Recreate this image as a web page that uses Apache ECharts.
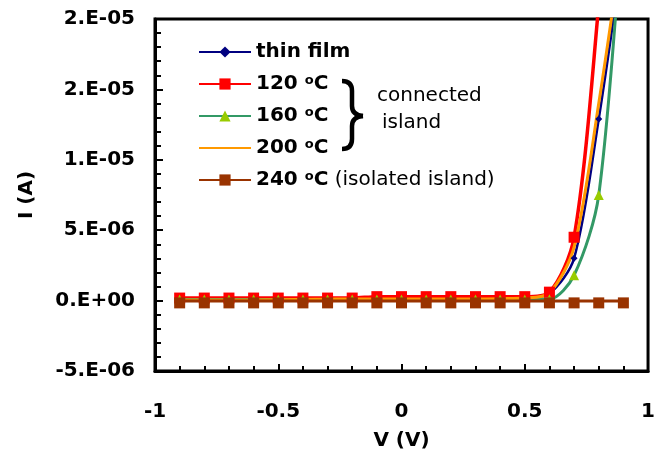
<!DOCTYPE html>
<html>
<head>
<meta charset="utf-8">
<script src="https://cdn.jsdelivr.net/npm/echarts@6/dist/echarts.min.js"></script>
<style>
  html, body { margin: 0; padding: 0; background: #fff; }
  #chart { width: 658px; height: 461px; }
</style>
</head>
<body>
<div id="chart"></div>
<script>
// I-V curves, values in amperes
var voltages = [-0.9, -0.8, -0.7, -0.6, -0.5, -0.4, -0.3, -0.2, -0.1, 0, 0.1, 0.2, 0.3, 0.4, 0.5, 0.6, 0.7, 0.8, 0.9];
var thinFilm = [0.05e-6, 0.05e-6, 0.05e-6, 0.05e-6, 0.05e-6, 0.05e-6, 0.06e-6, 0.06e-6, 0.08e-6, 0.08e-6, 0.08e-6, 0.1e-6, 0.1e-6, 0.12e-6, 0.18e-6, 0.5e-6, 3.0e-6, 12.9e-6, 25e-6];
var temp120 = [0.18e-6, 0.18e-6, 0.18e-6, 0.18e-6, 0.18e-6, 0.18e-6, 0.18e-6, 0.18e-6, 0.28e-6, 0.28e-6, 0.28e-6, 0.28e-6, 0.28e-6, 0.28e-6, 0.28e-6, 0.6e-6, 4.5e-6, 21e-6, 42e-6];
var temp160 = [0.08e-6, 0.08e-6, 0.08e-6, 0.08e-6, 0.08e-6, 0.08e-6, 0.08e-6, 0.08e-6, 0.08e-6, 0.08e-6, 0.08e-6, 0.08e-6, 0.08e-6, 0.08e-6, 0.08e-6, 0.1e-6, 1.8e-6, 7.5e-6, 28e-6];
var temp200 = [0.05e-6, 0.05e-6, 0.05e-6, 0.05e-6, 0.06e-6, 0.08e-6, 0.1e-6, 0.12e-6, 0.12e-6, 0.12e-6, 0.12e-6, 0.12e-6, 0.12e-6, 0.14e-6, 0.18e-6, 0.55e-6, 3.8e-6, 14e-6, 26e-6];
var temp240 = [-0.02e-6, -0.02e-6, -0.02e-6, -0.02e-6, -0.02e-6, -0.02e-6, -0.02e-6, -0.02e-6, -0.02e-6, -0.02e-6, -0.02e-6, -0.02e-6, -0.02e-6, -0.02e-6, -0.02e-6, -0.02e-6, -0.02e-6, -0.02e-6, -0.02e-6];

var yTickLabels = ['-5.E-06', '0.E+00', '5.E-06', '1.E-05', '2.E-05', '2.E-05'];
var seriesNames = ['thin film', '120 oC', '160 oC', '200 oC', '240 oC'];

function pairs(ys) {
    return voltages.map(function(v, i) { return [v, ys[i]]; });
}

var boldFont = 'DejaVu Sans';
var braceStyle = { stroke: '#000', lineWidth: 4.5, fill: null };

function curve(x1, y1, cx, cy, x2, y2) {
    return { type: 'bezierCurve', shape: { x1: x1, y1: y1, cpx1: cx, cpy1: cy, x2: x2, y2: y2 }, style: braceStyle };
}

function seg(x1, y1, x2, y2) {
    return { type: 'line', shape: { x1: x1, y1: y1, x2: x2, y2: y2 }, style: braceStyle };
}

// legend entries; the 200 oC series has no marker
var legendData = seriesNames.map(function(n) {
    if (n === '200 oC') return { name: n, itemStyle: { opacity: 0 } };
    return { name: n };
});

var chart = echarts.init(document.getElementById('chart'), null, { renderer: 'canvas' });

chart.setOption({
    animation: false,
    backgroundColor: '#fff',
    grid: {
        left: 155, right: 5, top: 19, bottom: 90,
        show: true, borderColor: '#000', borderWidth: 3, backgroundColor: 'transparent'
    },
    xAxis: {
        type: 'value', min: -1, max: 1, interval: 0.5,
        name: 'V (V)', nameLocation: 'middle', nameGap: 60,
        nameTextStyle: { fontFamily: boldFont, fontWeight: 'bold', fontSize: 20, color: '#000' },
        axisLine: { onZero: false, lineStyle: { color: '#000', width: 3 } },
        axisTick: { inside: true, length: 7, lineStyle: { color: '#000', width: 2 } },
        minorTick: { show: true, splitNumber: 5, length: 5, lineStyle: { color: '#000', width: 2 } },
        splitLine: { show: false },
        axisLabel: {
            margin: 31, fontFamily: boldFont, fontWeight: 'bold', fontSize: 20, color: '#000',
            formatter: function(v) { return String(Math.round(v * 10) / 10); }
        }
    },
    yAxis: {
        type: 'value', min: -5e-6, max: 2e-5, interval: 5e-6,
        name: 'I (A)', nameLocation: 'middle', nameGap: 118,
        nameTextStyle: { fontFamily: boldFont, fontWeight: 'bold', fontSize: 20, color: '#000' },
        axisLine: { show: true, onZero: false, lineStyle: { color: '#000', width: 3 } },
        axisTick: { show: true, inside: true, length: 8, lineStyle: { color: '#000', width: 2 } },
        minorTick: { show: true, splitNumber: 5, length: 6, lineStyle: { color: '#000', width: 2 } },
        splitLine: { show: false },
        axisLabel: {
            margin: 20, fontFamily: boldFont, fontWeight: 'bold', fontSize: 20, color: '#000',
            formatter: function(v) { return yTickLabels[Math.round(v / 5e-6) + 1]; }
        }
    },
    legend: {
        orient: 'vertical', left: 198, top: 42, padding: 0,
        itemWidth: 52, itemHeight: 14, itemGap: 12,
        data: legendData,
        formatter: function(name) {
            if (name === 'thin film') return '{b|thin film}';
            var t = name.split(' ')[0];
            var s = '{b|' + t + ' }{s|o}{b|C}';
            if (t === '240') s += '{n| (isolated island)}';
            return s;
        },
        textStyle: {
            color: '#000', lineHeight: 20,
            rich: {
                b: { fontFamily: boldFont, fontWeight: 'bold', fontSize: 20, lineHeight: 20, color: '#000' },
                s: { fontFamily: boldFont, fontWeight: 'bold', fontSize: 13, lineHeight: 13, verticalAlign: 'top', color: '#000' },
                n: { fontFamily: 'DejaVu Sans', fontSize: 20, lineHeight: 20, color: '#000' }
            }
        }
    },
    graphic: [
        curve(342, 81, 352, 81, 352, 91),
        seg(352, 91, 352, 106),
        curve(352, 106, 352, 115, 363, 116),
        curve(363, 116, 352, 117, 352, 126),
        seg(352, 126, 352, 139),
        curve(352, 139, 352, 149, 342, 149),
        {
            type: 'text', x: 377, y: 96,
            style: { text: 'connected', fontFamily: 'DejaVu Sans', fontSize: 20, fill: '#000', verticalAlign: 'middle' }
        },
        {
            type: 'text', x: 382, y: 123,
            style: { text: 'island', fontFamily: 'DejaVu Sans', fontSize: 20, fill: '#000', verticalAlign: 'middle' }
        }
    ],
    series: [
        {
            name: 'thin film', type: 'line', smooth: 0.3, data: pairs(thinFilm),
            symbol: 'diamond', symbolSize: 7,
            lineStyle: { color: '#000080', width: 2.5 },
            itemStyle: { color: '#000080' }
        },
        {
            name: '120 oC', type: 'line', smooth: 0.3, data: pairs(temp120),
            symbol: 'rect', symbolSize: 11,
            lineStyle: { color: '#ff0000', width: 3.5 },
            itemStyle: { color: '#ff0000' }
        },
        {
            name: '160 oC', type: 'line', smooth: 0.3, data: pairs(temp160),
            symbol: 'triangle', symbolSize: 10,
            lineStyle: { color: '#339966', width: 3 },
            itemStyle: { color: '#99cc00' }
        },
        {
            name: '200 oC', type: 'line', smooth: 0.3, data: pairs(temp200),
            symbol: 'none',
            lineStyle: { color: '#ff9900', width: 3 },
            itemStyle: { color: '#ff9900' }
        },
        {
            name: '240 oC', type: 'line', smooth: 0.3, data: pairs(temp240),
            symbol: 'rect', symbolSize: 11, symbolOffset: [0, 2],
            lineStyle: { color: '#993300', width: 3 },
            itemStyle: { color: '#993300' }
        }
    ]
});
</script>
</body>
</html>
